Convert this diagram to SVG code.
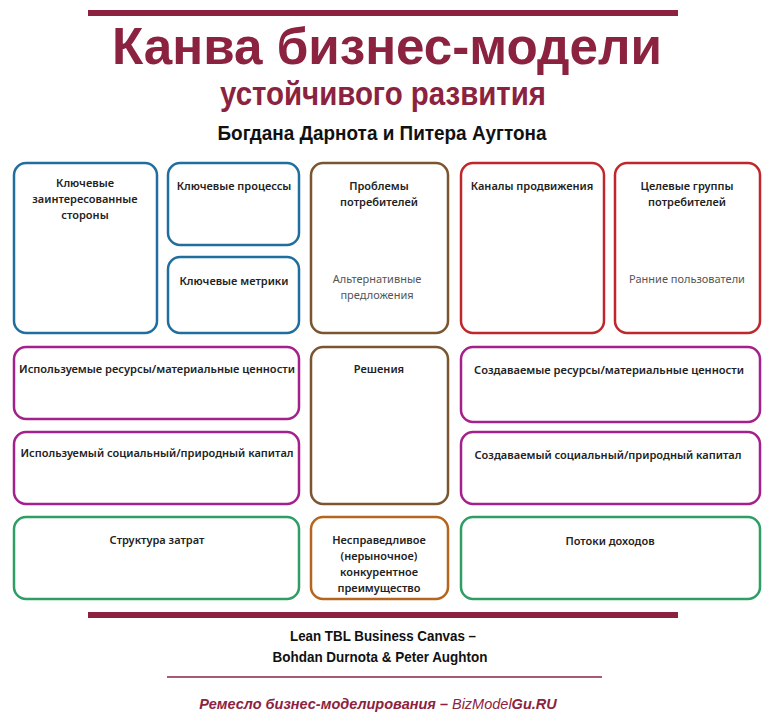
<svg xmlns="http://www.w3.org/2000/svg" width="768" height="726" viewBox="0 0 768 726">
<style>
.box{fill:#fff;stroke-width:2.5}
.blue{stroke:#1f6e9e}
.brown{stroke:#7a5530}
.red{stroke:#c0272d}
.mag{stroke:#a4218c}
.green{stroke:#2e9e64}
.orange{stroke:#b5651d}
.lbl{font-family:"Noto Sans","DejaVu Sans",sans-serif;font-size:11px;font-weight:600;fill:#222;text-anchor:middle}
.sub{font-family:"Noto Sans","DejaVu Sans",sans-serif;font-size:11px;font-weight:400;fill:#555;text-anchor:middle}
.hd{font-family:"Liberation Sans",sans-serif;font-weight:700;text-anchor:middle}
.ft{font-family:"Liberation Sans",sans-serif;font-size:14.5px;font-style:italic;fill:#8b2340;text-anchor:middle}
</style>
<rect width="768" height="726" fill="#fff"/>
<g id="header">
<rect x="88" y="10" width="590" height="6" fill="#8b2340"/>
<text class="hd" x="387" y="64" font-size="52" fill="#8b2340" textLength="550" lengthAdjust="spacingAndGlyphs">Канва бизнес-модели</text>
<text class="hd" x="383" y="105" font-size="33" fill="#8b2340" textLength="326" lengthAdjust="spacingAndGlyphs">устойчивого развития</text>
<text class="hd" x="382" y="140" font-size="20" fill="#111" textLength="329" lengthAdjust="spacingAndGlyphs">Богдана Дарнота и Питера Аугтона</text>
</g>
<g id="key-stakeholders">
<rect class="box blue" x="14" y="163" width="143" height="170" rx="12"/>
<text class="lbl" x="85" y="187">Ключевые</text>
<text class="lbl" x="85" y="203">заинтересованные</text>
<text class="lbl" x="85" y="219">стороны</text>
</g>
<g id="key-processes">
<rect class="box blue" x="168" y="163" width="131" height="82" rx="12"/>
<text class="lbl" x="234" y="190">Ключевые процессы</text>
</g>
<g id="key-metrics">
<rect class="box blue" x="168" y="257" width="131" height="76" rx="12"/>
<text class="lbl" x="234" y="285">Ключевые метрики</text>
</g>
<g id="customer-problems">
<rect class="box brown" x="311" y="163" width="137" height="170" rx="12"/>
<text class="lbl" x="379" y="190">Проблемы</text>
<text class="lbl" x="379" y="206">потребителей</text>
<text class="sub" x="377" y="283">Альтернативные</text>
<text class="sub" x="377" y="299">предложения</text>
</g>
<g id="channels">
<rect class="box red" x="461" y="163" width="143" height="170" rx="12"/>
<text class="lbl" x="532" y="190">Каналы продвижения</text>
</g>
<g id="customer-segments">
<rect class="box red" x="615" y="163" width="145" height="170" rx="12"/>
<text class="lbl" x="687" y="190">Целевые группы</text>
<text class="lbl" x="687" y="206">потребителей</text>
<text class="sub" x="687" y="283">Ранние пользователи</text>
</g>
<g id="used-resources">
<rect class="box mag" x="14" y="347" width="285" height="72" rx="12"/>
<text class="lbl" x="157" y="373" textLength="276" lengthAdjust="spacingAndGlyphs">Используемые ресурсы/материальные ценности</text>
</g>
<g id="solutions">
<rect class="box brown" x="311" y="347" width="137" height="157" rx="12"/>
<text class="lbl" x="379" y="373">Решения</text>
</g>
<g id="created-resources">
<rect class="box mag" x="461" y="347" width="299" height="75" rx="12"/>
<text class="lbl" x="609" y="374" textLength="270" lengthAdjust="spacingAndGlyphs">Создаваемые ресурсы/материальные ценности</text>
</g>
<g id="used-capital">
<rect class="box mag" x="14" y="432" width="285" height="72" rx="12"/>
<text class="lbl" x="157" y="457" textLength="273" lengthAdjust="spacingAndGlyphs">Используемый социальный/природный капитал</text>
</g>
<g id="created-capital">
<rect class="box mag" x="461" y="432" width="299" height="72" rx="12"/>
<text class="lbl" x="608" y="459" textLength="267" lengthAdjust="spacingAndGlyphs">Создаваемый социальный/природный капитал</text>
</g>
<g id="cost-structure">
<rect class="box green" x="14" y="517" width="285" height="82" rx="12"/>
<text class="lbl" x="157" y="544">Структура затрат</text>
</g>
<g id="unfair-advantage">
<rect class="box orange" x="311" y="517" width="137" height="82" rx="12"/>
<text class="lbl" x="379" y="544">Несправедливое</text>
<text class="lbl" x="379" y="560">(нерыночное)</text>
<text class="lbl" x="379" y="576">конкурентное</text>
<text class="lbl" x="379" y="592">преимущество</text>
</g>
<g id="revenue-streams">
<rect class="box green" x="461" y="517" width="299" height="82" rx="12"/>
<text class="lbl" x="610" y="545">Потоки доходов</text>
</g>
<g id="connectors"></g>
<g id="footer">
<rect x="88" y="612" width="590" height="6" fill="#8b2340"/>
<text class="hd" x="383" y="641" font-size="15" fill="#111" textLength="186" lengthAdjust="spacingAndGlyphs">Lean TBL Business Canvas –</text>
<text class="hd" x="380" y="662" font-size="15" fill="#111" textLength="215" lengthAdjust="spacingAndGlyphs">Bohdan Durnota &amp; Peter Aughton</text>
<line x1="167" y1="677" x2="602" y2="677" stroke="#8b2340" stroke-width="1.5"/>
<text class="ft" x="378" y="709"><tspan font-weight="700">Ремесло бизнес-моделирования – </tspan><tspan font-weight="400">BizModel</tspan><tspan font-weight="700">Gu.RU</tspan></text>
</g>
</svg>
